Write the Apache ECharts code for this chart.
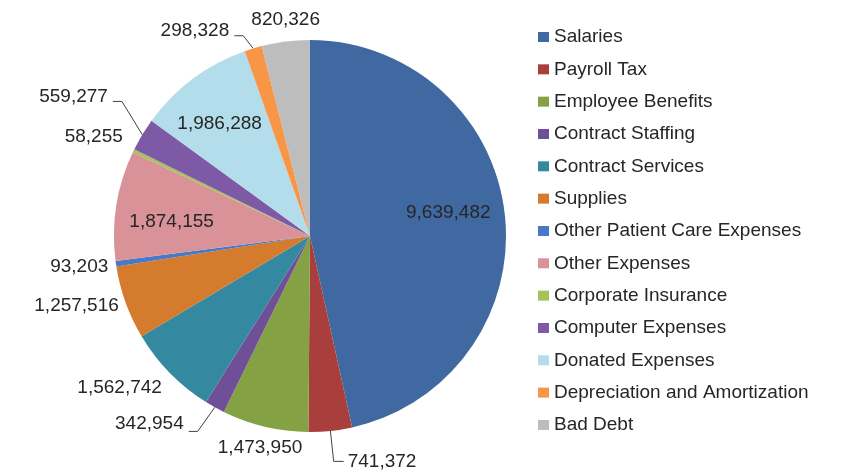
<!DOCTYPE html>
<html>
<head>
<meta charset="utf-8">
<script src="https://cdn.jsdelivr.net/npm/echarts@6/dist/echarts.min.js"></script>
<style>
html,body{margin:0;padding:0;background:#fff;}
#chart{width:849px;height:472px;}
</style>
</head>
<body>
<div id="chart"></div>
<script>
// ---- data ----
const categories = [
  'Salaries', 'Payroll Tax', 'Employee Benefits', 'Contract Staffing',
  'Contract Services', 'Supplies', 'Other Patient Care Expenses', 'Other Expenses',
  'Corporate Insurance', 'Computer Expenses', 'Donated Expenses',
  'Depreciation and Amortization', 'Bad Debt'
];
const values = [
  9639482, 741372, 1473950, 342954,
  1562742, 1257516, 93203, 1874155,
  58255, 559277, 1986288,
  298328, 820326
];

// ---- style ----
const colors = [
  '#4169A1', '#A83F3D', '#84A144', '#6F4F97',
  '#3489A0', '#D57B2E', '#4A78C4', '#D99297',
  '#A5C25B', '#7E5AA6', '#B3DDEA',
  '#F79646', '#BDBDBD'
];
const FONT = '"Liberation Sans", Arial, sans-serif';
const TEXT_COLOR = '#262626';
const CX = 310, CY = 236, R = 196;
// label placement styling (Excel-like best fit)
const insideLabels = [0, 7, 10];
const leaderLabels = [1, 3, 9, 11];
const labelNudge = [
  [-2, -8], [50, 15], [0, 0], [-52, -8],
  [-22, -13], [-6, -12], [-4, -2], [1, 7.5],
  [-10, 0], [-37, -19], [-6, 1],
  [-52, 3], [2, -6]
];

const total = values.reduce((a, b) => a + b, 0);
let acc = 0;
const midAngles = values.map(v => {
  const m = (acc + v / 2) / total * 2 * Math.PI;
  acc += v;
  return m;
});

function fmt(v) { return v.toLocaleString('en-US'); }

const chart = echarts.init(document.getElementById('chart'), null, {renderer: 'canvas'});

const option = {
  animation: false,
  color: colors,
  legend: {
    orient: 'vertical',
    left: 538,
    top: 27,
    padding: 0,
    icon: 'rect',
    itemWidth: 11,
    itemHeight: 10,
    itemGap: 12.33,
    textStyle: {fontFamily: FONT, fontSize: 19, lineHeight: 20, color: TEXT_COLOR},
    data: categories
  },
  series: [{
    type: 'pie',
    center: [CX, CY],
    radius: [0, R],
    startAngle: 90,
    clockwise: true,
    avoidLabelOverlap: false,
    emphasis: {disabled: true},
    itemStyle: {borderWidth: 0},
    label: {
      show: true,
      position: 'outside',
      fontFamily: FONT,
      fontSize: 19,
      color: TEXT_COLOR,
      formatter: p => fmt(p.value)
    },
    labelLine: {
      show: true,
      length: 0,
      length2: 0,
      smooth: false,
      lineStyle: {color: '#404040', width: 1}
    },
    labelLayout: function (params) {
      const i = params.dataIndex;
      const th = midAngles[i];
      const sx = Math.sin(th), sy = -Math.cos(th);
      const w = params.labelRect.width;
      const hh = 9;
      let dist;
      if (insideLabels.indexOf(i) >= 0) {
        dist = R * 0.72;
      } else {
        dist = R + 3 + Math.abs(sx) * w / 2 + Math.abs(sy) * hh;
      }
      const lx = CX + dist * sx + labelNudge[i][0];
      const ly = CY + dist * sy + labelNudge[i][1];
      const out = {x: lx, y: ly, align: 'center', verticalAlign: 'middle'};
      if (leaderLabels.indexOf(i) >= 0) {
        const p0 = [CX + R * sx, CY + R * sy];
        let p1, p2;
        if (lx > p0[0]) {
          const near = lx - w / 2;
          p1 = [near - 14, ly + (sy > 0 ? 0 : 5)];
          p2 = [near - 4, ly + (sy > 0 ? 0 : 5)];
        } else {
          const near = lx + w / 2;
          const off = sy > 0 ? 8 : 5;
          p1 = [near + 14, ly + off];
          p2 = [near + 5, ly + off];
        }
        out.labelLinePoints = [p0, p1, p2];
      }
      return out;
    },
    data: categories.map((name, i) => ({
      name: name,
      value: values[i],
      labelLine: {show: leaderLabels.indexOf(i) >= 0}
    }))
  }]
};

chart.setOption(option);
</script>
</body>
</html>
